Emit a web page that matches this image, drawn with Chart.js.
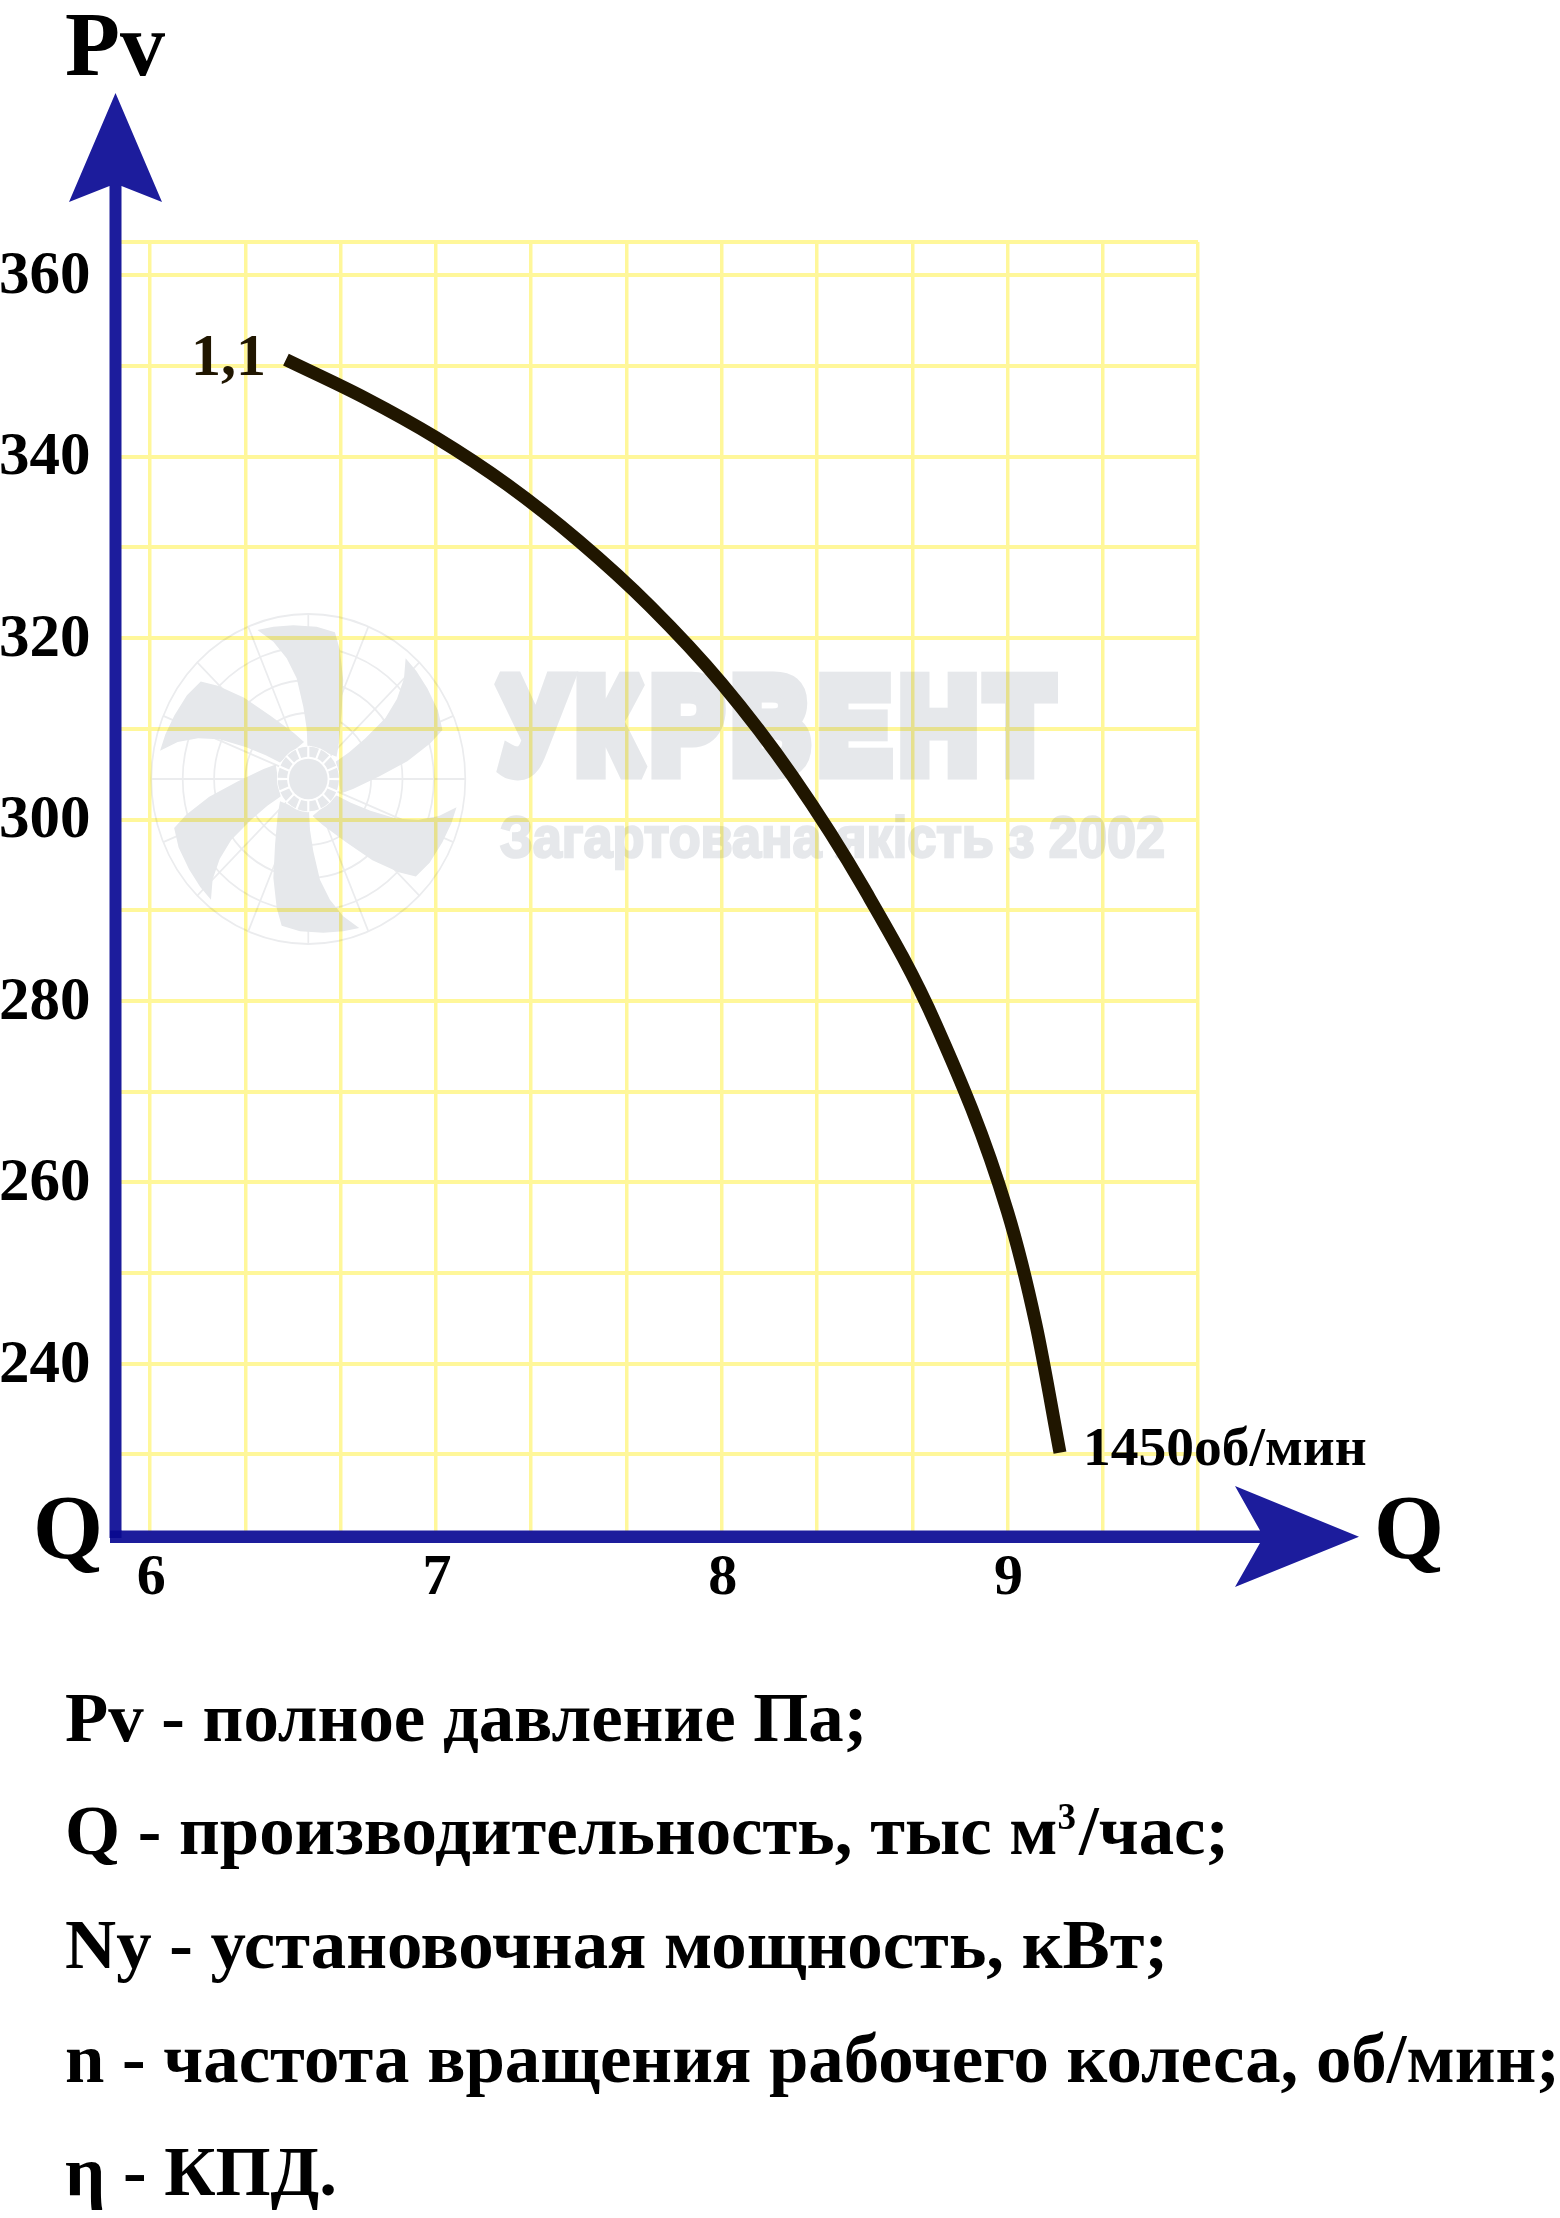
<!DOCTYPE html>
<html lang="ru">
<head>
<meta charset="utf-8">
<title>Pv - Q</title>
<script src="https://cdn.jsdelivr.net/npm/chart.js@4/dist/chart.umd.min.js"></script>
<style>
  html, body { margin: 0; padding: 0; background: #fff; }
  #wrap { position: relative; width: 1560px; height: 2218px; overflow: hidden; }
  canvas { position: absolute; left: 0; top: 0; }
  .note {
    position: absolute; left: 65px; margin: 0; white-space: nowrap; color: #000;
    font: bold 70.8px/80px "Liberation Serif", serif;
  }
  .note sup { font-size: 37px; line-height: 0; vertical-align: 25px; padding-right: 3px; }
</style>
</head>
<body>
<div id="wrap">
  <canvas id="chart" width="1560" height="2218"></canvas>
  <p class="note" style="top:1677px">Pv - полное давление Па;</p>
  <p class="note" style="top:1790px">Q - производительность, тыс м<sup>3</sup>/час;</p>
  <p class="note" style="top:1904px">Ny - установочная мощность, кВт;</p>
  <p class="note" style="top:2018px">n - частота вращения рабочего колеса, об/мин;</p>
  <p class="note" style="top:2131px">η - КПД.</p>
</div>
<script>
// кривая Pv(Q)
const qValues = [6.475, 6.75, 7.0, 7.25, 7.5, 7.75, 8.0, 8.25, 8.5, 8.75, 9.0, 9.1, 9.184];
const pvValues = [350.7, 346.5, 342.1, 336.9, 330.7, 323.5, 315.0, 304.7, 292.3, 277.4, 256.8, 244.3, 230.2];

// сетка и подписи осей
const qGridTicks = [6, 6.333, 6.667, 7, 7.333, 7.667, 8, 8.333, 8.667, 9, 9.333, 9.667];
const pvGridTicks = [230, 240, 250, 260, 270, 280, 290, 300, 310, 320, 330, 340, 350, 360, 363.67];
const qLabels = [6, 7, 8, 9];
const pvLabels = [240, 260, 280, 300, 320, 340, 360];

const curveLabel = '1,1';
const speedLabel = '1450об/мин';

const axisBlue = '#1C1C9C';
const gridYellow = '#FFF79A';
const curveColor = '#201600';
const markGrey = '#E6E8EB';
const serif = '"Liberation Serif", serif';

// логотип на фоне
function drawFanLogo(c, cx, cy, rx, ry) {
  c.save();
  c.translate(cx, cy);
  c.scale(rx, ry);
  c.strokeStyle = '#EBECEE';
  c.lineWidth = 0.011;
  [1, 0.8, 0.6, 0.4].forEach(r => {
    c.beginPath(); c.arc(0, 0, r, 0, Math.PI * 2); c.stroke();
  });
  for (let i = 0; i < 16; i++) {
    const a = i * Math.PI / 8;
    c.beginPath();
    c.moveTo(Math.cos(a) * 0.2, Math.sin(a) * 0.2);
    c.lineTo(Math.cos(a), Math.sin(a));
    c.stroke();
  }
  const blade = [[-2, -102], [-5, -152], [-15, -217], [-35, -302], [-65, -362], [-105, -412], [-153, -447],
    [-105, -457], [-45, -461], [25, -457], [80, -440], [95, -387], [105, -297], [100, -197], [92, -107], [85, -67]]
    .map(p => [p[0] / 472, p[1] / 495]);
  c.fillStyle = markGrey;
  for (let k = 0; k < 6; k++) {
    c.save();
    c.rotate(k * Math.PI / 3);
    c.beginPath();
    blade.forEach((p, i) => i ? c.lineTo(p[0], p[1]) : c.moveTo(p[0], p[1]));
    c.closePath();
    c.fill();
    c.restore();
  }
  // ступица
  c.fillStyle = '#fff';
  c.beginPath(); c.arc(0, 0, 0.2, 0, Math.PI * 2); c.fill();
  c.fillStyle = markGrey;
  c.beginPath(); c.arc(0, 0, 0.123, 0, Math.PI * 2); c.fill();
  for (let i = 0; i < 16; i++) {
    const a = i * Math.PI / 8;
    c.beginPath();
    c.arc(0, 0, 0.195, a + 0.035, a + Math.PI / 8 - 0.035);
    c.arc(0, 0, 0.135, a + Math.PI / 8 - 0.05, a + 0.05, true);
    c.closePath();
    c.fill();
  }
  c.restore();
}

function fitText(c, text, font, left, right, baseline, strokeWidth, spacing) {
  c.save();
  c.font = font;
  c.letterSpacing = spacing + 'px';
  c.textAlign = 'left';
  c.textBaseline = 'alphabetic';
  c.fillStyle = markGrey;
  c.strokeStyle = markGrey;
  c.lineWidth = strokeWidth;
  c.lineJoin = 'miter';
  c.miterLimit = 2;
  const w = c.measureText(text).width;
  c.translate(left, baseline);
  c.scale((right - left) / w, 1);
  c.strokeText(text, 0, 0);
  c.fillText(text, 0, 0);
  c.restore();
}

// всё серое рисуем в отдельный холст и кладём на сетку через multiply
const watermarkPlugin = {
  id: 'watermark',
  beforeDatasetsDraw(chart) {
    const off = document.createElement('canvas');
    off.width = 1560; off.height = 2218;
    const c = off.getContext('2d');
    drawFanLogo(c, 308.3, 779, 157, 165);
    fitText(c, 'УКРВЕНТ', 'bold 132px "Liberation Sans", sans-serif', 500, 1062, 771, 17, 12);
    fitText(c, 'Загартована якість з 2002', 'bold 58px "Liberation Sans", sans-serif', 500, 1165, 857, 2.5, 0);
    chart.ctx.save();
    chart.ctx.globalCompositeOperation = 'multiply';
    chart.ctx.drawImage(off, 0, 0);
    chart.ctx.restore();
  }
};

function arrow(ctx, pts) {
  ctx.fillStyle = axisBlue;
  ctx.beginPath();
  pts.forEach((p, i) => i ? ctx.lineTo(p[0], p[1]) : ctx.moveTo(p[0], p[1]));
  ctx.closePath();
  ctx.fill();
}

const axesPlugin = {
  id: 'axesAndLabels',
  afterDatasetsDraw(chart) {
    const ctx = chart.ctx;
    const xs = chart.scales.x;
    const ys = chart.scales.y;
    const n = qValues.length - 1;
    ctx.save();
    // оси со стрелками
    ctx.fillStyle = axisBlue;
    ctx.fillRect(109.5, 180, 12, 1358);
    ctx.fillRect(110, 1530.5, 1160, 12.5);
    ctx.fillStyle = '#0A0A90';
    ctx.fillRect(110, 1530.5, 11.5, 7.5);
    arrow(ctx, [[115.5, 93], [162, 202], [121.5, 186], [109.5, 186], [69, 202]]);
    arrow(ctx, [[1359, 1536.7], [1235, 1587], [1260, 1543], [1260, 1530.5], [1235, 1486]]);
    // названия осей
    ctx.textAlign = 'left';
    ctx.textBaseline = 'alphabetic';
    ctx.fillStyle = '#000';
    ctx.font = 'bold 90px ' + serif;
    ctx.fillText('Pv', 65, 75);
    ctx.fillText('Q', 33, 1558);
    ctx.fillText('Q', 1374, 1558);
    // подписи кривой
    ctx.font = 'bold 60px ' + serif;
    ctx.fillStyle = curveColor;
    ctx.textAlign = 'right';
    ctx.fillText(curveLabel, xs.getPixelForValue(qValues[0]) - 20, ys.getPixelForValue(pvValues[0]) + 15);
    ctx.textAlign = 'left';
    ctx.fillStyle = '#000';
    ctx.font = 'bold 55.5px ' + serif;
    ctx.fillText(speedLabel, xs.getPixelForValue(qValues[n]) + 23, ys.getPixelForValue(pvValues[n]) + 12);
    ctx.restore();
  }
};

new Chart(document.getElementById('chart'), {
  type: 'scatter',
  data: {
    datasets: [{
      data: qValues.map((q, i) => ({ x: q, y: pvValues[i] })),
      showLine: true,
      borderColor: curveColor,
      borderWidth: 13,
      borderCapStyle: 'butt',
      cubicInterpolationMode: 'monotone',
      pointRadius: 0,
      clip: false
    }]
  },
  options: {
    responsive: false,
    animation: false,
    devicePixelRatio: 1,
    layout: { padding: { top: 242, right: 362, left: 0, bottom: 0 } },
    plugins: { legend: { display: false }, tooltip: { enabled: false } },
    scales: {
      x: {
        type: 'linear',
        min: 5.882,
        max: 9.667,
        afterBuildTicks: axis => { axis.ticks = qGridTicks.map(v => ({ value: v })); },
        afterFit: axis => { axis.height = 2218 - 1537; },
        border: { display: false },
        grid: { color: gridYellow, lineWidth: 3.5, drawTicks: false },
        ticks: {
          autoSkip: false,
          maxRotation: 0,
          padding: 7,
          labelOffset: 1,
          color: '#000',
          font: { family: serif, size: 58, weight: 'bold' },
          callback: v => (qLabels.includes(v) ? String(v) : '')
        }
      },
      y: {
        type: 'linear',
        min: 220.9,
        max: 363.67,
        afterBuildTicks: axis => { axis.ticks = pvGridTicks.map(v => ({ value: v })); },
        afterFit: axis => { axis.width = 116.5; },
        border: { display: false },
        grid: { color: gridYellow, lineWidth: 4, drawTicks: false },
        ticks: {
          autoSkip: false,
          padding: 26,
          labelOffset: 2,
          color: '#000',
          font: { family: serif, size: 61, weight: 'bold' },
          callback: v => (pvLabels.includes(v) ? String(v) : '')
        }
      }
    }
  },
  plugins: [watermarkPlugin, axesPlugin]
});
</script>
</body>
</html>
